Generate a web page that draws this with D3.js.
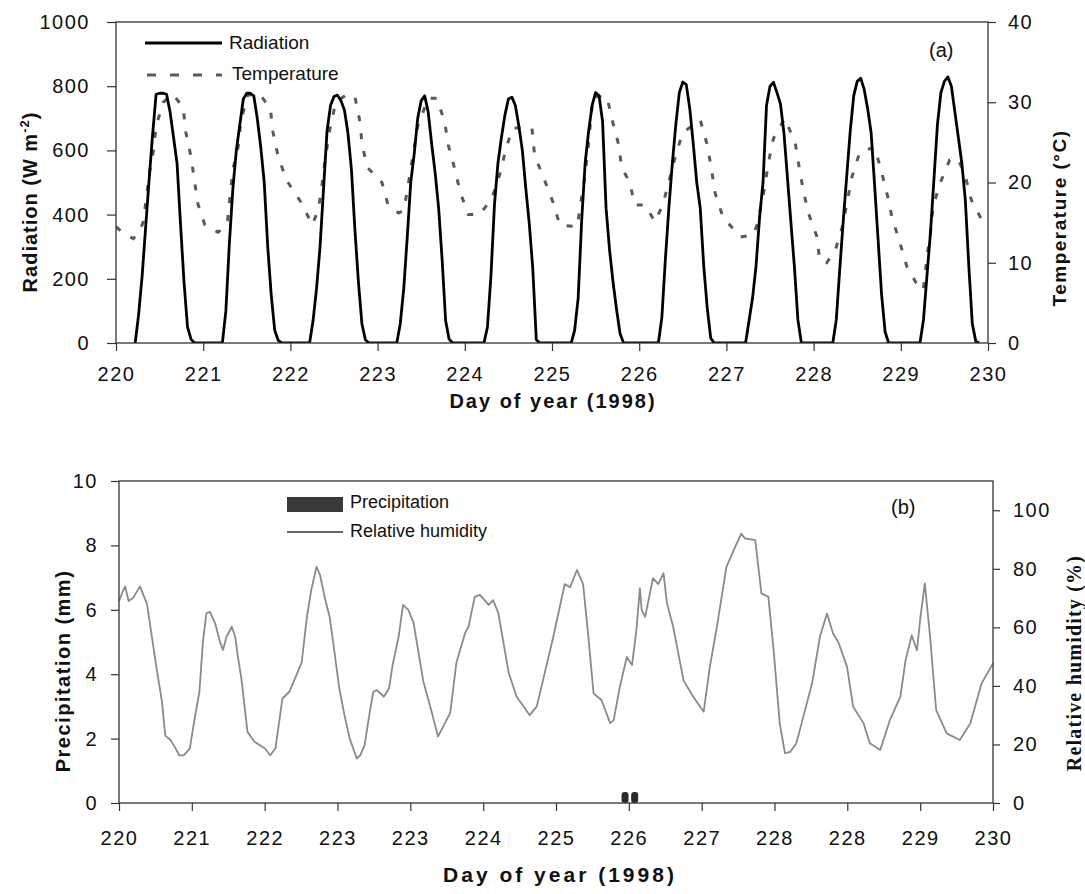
<!DOCTYPE html>
<html>
<head>
<meta charset="utf-8">
<script src="https://cdn.jsdelivr.net/npm/d3@7"></script>
<style>
  body { margin: 0; background: #fff; }
  text { font-family: "Liberation Sans", Arial, sans-serif; fill: #111; }
</style>
</head>
<body>
<script>
// ---- panel (a): radiation, sampled at fixed fractions of each day ----
var radDays = [220, 221, 222, 223, 224, 225, 226, 227, 228, 229]
var radFrac = [0.22, 0.26, 0.30, 0.34, 0.38, 0.42, 0.46, 0.50, 0.54, 0.58, 0.62, 0.66, 0.70, 0.74, 0.78, 0.82, 0.86, 0.90]
var radValues = [
  [0, 90, 210, 360, 510, 650, 775, 778, 778, 775, 720, 640, 560, 370, 190, 50, 12, 0],
  [0, 100, 310, 480, 600, 680, 760, 778, 778, 770, 700, 610, 500, 300, 150, 40, 8, 0],
  [0, 70, 170, 300, 480, 660, 740, 768, 772, 755, 725, 654, 540, 352, 190, 60, 10, 0],
  [0, 60, 170, 330, 500, 590, 700, 755, 770, 720, 620, 530, 420, 260, 70, 12, 0, 0],
  [0, 50, 210, 430, 560, 640, 710, 760, 766, 740, 675, 600, 480, 370, 230, 10, 0, 0],
  [0, 40, 140, 380, 560, 660, 740, 780, 770, 690, 420, 290, 190, 105, 30, 0, 0, 0],
  [0, 80, 260, 420, 560, 680, 780, 813, 805, 730, 620, 500, 420, 240, 110, 15, 0, 0],
  [0, 70, 140, 240, 390, 500, 740, 800, 812, 780, 745, 654, 515, 375, 237, 72, 0, 0],
  [0, 72, 230, 380, 520, 660, 770, 815, 825, 790, 730, 654, 490, 320, 150, 35, 0, 0],
  [0, 72, 210, 343, 510, 680, 780, 815, 829, 800, 720, 640, 560, 445, 240, 60, 5, 0]
]

// temperature (deg C)
var tempTime = [220.00, 220.10, 220.20, 220.27, 220.31, 220.35, 220.38, 220.43, 220.46, 220.54, 220.65, 220.77, 220.80, 220.86, 220.90, 220.94,
  221.02, 221.17, 221.25, 221.28, 221.31, 221.34, 221.40, 221.43, 221.51, 221.65, 221.77, 221.80, 221.86, 221.96,
  222.13, 222.25, 222.32, 222.36, 222.40, 222.45, 222.52, 222.65, 222.74, 222.80, 222.82, 222.88,
  223.05, 223.12, 223.24, 223.30, 223.34, 223.40, 223.46, 223.58, 223.68, 223.77, 223.81, 223.88, 223.95,
  224.04, 224.17, 224.31, 224.40, 224.48, 224.55, 224.77, 224.80, 224.90,
  225.01, 225.09, 225.29, 225.33, 225.38, 225.42, 225.47, 225.63, 225.69, 225.76, 225.80, 225.89, 225.95,
  226.07, 226.18, 226.27, 226.35, 226.42, 226.50, 226.70, 226.78, 226.83, 226.87, 226.96,
  227.16, 227.31, 227.36, 227.38, 227.44, 227.48, 227.54, 227.67, 227.79, 227.83, 227.88, 227.94,
  228.04, 228.07, 228.15, 228.25, 228.33, 228.44, 228.53, 228.70, 228.78, 228.85, 228.90, 228.99,
  229.07, 229.15, 229.22, 229.26, 229.30, 229.34, 229.37, 229.45, 229.56, 229.65, 229.73, 229.81, 229.93, 230.00]
var tempValue = [14.5, 13.5, 13.0, 14.0, 15.0, 18.2, 21.0, 24.0, 27.0, 30.0, 31.0, 29.4, 26.3, 23.2, 20.2, 17.3,
  14.7, 13.8, 14.5, 15.3, 18.5, 21.6, 24.4, 27.5, 30.9, 31.0, 29.2, 26.3, 23.2, 20.2,
  17.4, 14.7, 16.6, 19.5, 23.0, 26.5, 30.0, 31.0, 30.7, 27.4, 24.9, 21.9,
  20.0, 17.2, 16.2, 16.5, 19.0, 23.0, 27.0, 30.5, 30.5, 27.5, 24.7, 21.9, 18.7,
  16.0, 16.0, 18.0, 21.0, 24.5, 26.8, 26.8, 23.4, 20.7,
  17.6, 14.7, 14.5, 17.5, 21.0, 25.0, 30.7, 30.7, 27.8, 24.9, 21.9, 20.0, 17.2,
  17.2, 15.1, 17.2, 20.5, 23.5, 26.2, 27.8, 24.7, 21.6, 18.7, 15.7,
  13.2, 13.5, 15.0, 16.2, 19.5, 22.4, 25.5, 28.0, 24.9, 22.2, 19.1, 16.2,
  13.2, 10.3, 10.0, 11.6, 14.5, 20.7, 23.8, 24.4, 21.3, 18.2, 15.6, 12.5,
  9.5, 8.0, 6.6, 6.8, 10.7, 13.7, 17.0, 19.9, 22.8, 23.0, 21.2, 17.8, 15.3, 15.0]

// ---- panel (b): relative humidity (%) and precipitation (mm) ----
var rhTime = [220.00, 220.04, 220.07, 220.11, 220.16, 220.24, 220.32, 220.37, 220.43, 220.49, 220.53, 220.59, 220.64, 220.69, 220.74, 220.81, 220.86, 220.92, 220.96,
  221.00, 221.04, 221.10, 221.16, 221.19, 221.23, 221.29, 221.33, 221.36, 221.40, 221.47, 221.55, 221.67, 221.73, 221.79, 221.87, 221.95,
  222.03, 222.09, 222.15, 222.20, 222.26, 222.30, 222.36, 222.41, 222.45, 222.52, 222.58, 222.64, 222.68, 222.72, 222.76, 222.81, 222.87, 222.91, 222.95,
  223.03, 223.09, 223.13, 223.20, 223.25, 223.31, 223.37, 223.48, 223.58, 223.65, 223.79, 223.86, 223.96,
  224.00, 224.07, 224.13, 224.23, 224.28, 224.34, 224.46, 224.55, 224.70, 224.78, 224.85, 224.97,
  225.10, 225.16, 225.24, 225.31, 225.37, 225.43, 225.52, 225.62, 225.66, 225.73, 225.81, 225.87, 225.92, 225.96, 225.98,
  226.02, 226.11, 226.17, 226.23, 226.27, 226.34, 226.46, 226.57, 226.65, 226.69, 226.76, 226.84, 226.95,
  227.05, 227.12, 227.16, 227.28, 227.35, 227.43, 227.49, 227.56, 227.62, 227.68, 227.75, 227.83, 227.93,
  228.02, 228.10, 228.17, 228.23, 228.33, 228.40, 228.52, 228.59, 228.71, 228.82, 228.94,
  229.00, 229.07, 229.13, 229.17, 229.22, 229.28, 229.35, 229.47, 229.62, 229.74, 229.87, 230.00]
var rhValue = [69, 72, 74, 69, 70, 74, 68, 58, 46, 35, 23, 21.5, 19, 16.3, 16.3, 18.6, 27.8, 38, 55,
  64.8, 65.3, 61.4, 54.6, 52.3, 56.8, 60.2, 56.8, 50, 42.6, 24.3, 20.9, 18.6, 16.3, 18.6, 35.7, 38,
  43.7, 48, 63.6, 72.8, 80.7, 77.9, 69.4, 63.6, 55, 39.2, 30, 22, 18.6, 15.2, 16.3, 19.8, 31.2, 38, 38.6,
  36.3, 39.2, 47, 56.9, 67.7, 66, 61.6, 41.8, 30.8, 22.7, 30.8, 47.9, 58.1,
  60.3, 70.4, 71.1, 67.7, 69.3, 64.9, 44.3, 36.3, 30, 33, 41.8, 56.9,
  74.8, 73.7, 79.6, 74.8, 56.9, 37.4, 35.2, 27.3, 28.3, 39.6, 49.9, 47.1, 59.1, 73.4, 66,
  63.6, 76.8, 74.8, 78.5, 68.2, 60.3, 41.8, 36.3, 32.9, 31.2, 46.5, 60, 80.7,
  87.5, 92, 90.4, 89.8, 71.6, 70.4, 52.2, 27.2, 17, 17.5, 20.4, 29.5, 40.9,
  56.8, 64.7, 57.9, 55, 46.5, 32.9, 27.2, 20.4, 18.1, 28.3, 36.3,
  48.8, 57.3, 52.2, 63.6, 75, 56.8, 31.7, 23.8, 21.5, 27.2, 40.9, 47.7]

var precipTime = [225.79, 225.90]
var precipValue = [0.25, 0.25]

// axis ticks
var radTicks = [0, 200, 400, 600, 800, 1000]
var tempTicks = [0, 10, 20, 30, 40]
var dayTicks = [220, 221, 222, 223, 224, 225, 226, 227, 228, 229, 230]
var precTicks = [0, 2, 4, 6, 8, 10]
var rhTicks = [0, 20, 40, 60, 80, 100]
var dayTicksB = [220, 220.833, 221.667, 222.5, 223.333, 224.167, 225, 225.833, 226.667, 227.5, 228.333, 229.167, 230]
var dayLabelsB = ["220", "221", "222", "223", "223", "224", "225", "226", "227", "228", "228", "229", "230"]

var svg = d3.select("body").append("svg")
  .attr("width", 1085)
  .attr("height", 894)

svg.append("rect").attr("width", 1085).attr("height", 894).attr("fill", "#fff")

// ================= panel (a) =================
var pa = { left: 116, right: 988, top: 22, bottom: 343 }

var x = d3.scaleLinear().domain([220, 230]).range([pa.left, pa.right])
var yRad = d3.scaleLinear().domain([0, 1000]).range([pa.bottom, pa.top])
var yTemp = d3.scaleLinear().domain([0, 40]).range([pa.bottom, pa.top])

svg.append("clipPath").attr("id", "clipA")
  .append("rect").attr("x", pa.left).attr("y", pa.top)
  .attr("width", pa.right - pa.left).attr("height", pa.bottom - pa.top)

var radPoints = []
radDays.forEach(function(day, i) {
  radFrac.forEach(function(f, j) {
    radPoints.push([day + f, radValues[i][j]])
  })
})

var tempPoints = tempTime.map(function(t, i) { return [t, tempValue[i]] })

svg.append("path")
  .datum(tempPoints)
  .attr("clip-path", "url(#clipA)")
  .attr("fill", "none")
  .attr("stroke", "#5a5a5a")
  .attr("stroke-width", 3)
  .attr("stroke-dasharray", "6,12")
  .attr("d", d3.line().x(d => x(d[0])).y(d => yTemp(d[1])))

svg.append("path")
  .datum(radPoints)
  .attr("clip-path", "url(#clipA)")
  .attr("fill", "none")
  .attr("stroke", "#000")
  .attr("stroke-width", 2.8)
  .attr("stroke-linejoin", "round")
  .attr("d", d3.line().x(d => x(d[0])).y(d => yRad(d[1])))

svg.append("rect")
  .attr("x", pa.left).attr("y", pa.top)
  .attr("width", pa.right - pa.left).attr("height", pa.bottom - pa.top)
  .attr("fill", "none").attr("stroke", "#333").attr("stroke-width", 1.3)

function styleAxis(g) {
  g.select(".domain").remove()
  g.selectAll(".tick line").attr("stroke", "#333").attr("stroke-width", 1.2)
  g.selectAll(".tick text")
    .style("font-family", "'Liberation Sans', Arial, sans-serif")
    .style("font-size", "20px")
    .style("letter-spacing", "1.5px")
    .attr("fill", "#111")
}

svg.append("g")
  .attr("transform", "translate(" + pa.left + ",0)")
  .call(d3.axisLeft(yRad).tickValues(radTicks).tickFormat(d3.format("d")).tickSize(9).tickPadding(17))
  .call(styleAxis)

svg.append("g")
  .attr("transform", "translate(" + pa.right + ",0)")
  .call(d3.axisRight(yTemp).tickValues(tempTicks).tickSize(8).tickPadding(12))
  .call(styleAxis)

svg.append("g")
  .attr("transform", "translate(0," + pa.bottom + ")")
  .call(d3.axisBottom(x).tickValues(dayTicks).tickFormat(d3.format("d")).tickSize(8).tickPadding(16))
  .call(styleAxis)

// legend (a)
svg.append("line").attr("x1", 145).attr("x2", 222).attr("y1", 43).attr("y2", 43)
  .attr("stroke", "#000").attr("stroke-width", 2.8)
svg.append("text").attr("x", 229).attr("y", 49).style("font-size", "19px").text("Radiation")
svg.append("line").attr("x1", 147).attr("x2", 222).attr("y1", 75).attr("y2", 75)
  .attr("stroke", "#5a5a5a").attr("stroke-width", 3).attr("stroke-dasharray", "9,14")
svg.append("text").attr("x", 232).attr("y", 80).style("font-size", "19px").text("Temperature")
svg.append("text").attr("x", 929).attr("y", 57).style("font-size", "20px").text("(a)")

// axis titles (a)
var radTitle = svg.append("text")
  .attr("transform", "translate(37,202) rotate(-90)")
  .attr("text-anchor", "middle")
  .style("font-size", "20px").style("font-weight", "bold").style("letter-spacing", "1px")
radTitle.append("tspan").text("Radiation (W m")
radTitle.append("tspan").attr("dy", -8).style("font-size", "13px").text("-2")
radTitle.append("tspan").attr("dy", 8).text(")")

svg.append("text")
  .attr("transform", "translate(1066,218) rotate(-90)")
  .attr("text-anchor", "middle")
  .style("font-size", "19px").style("font-weight", "bold").style("letter-spacing", "1.5px")
  .text("Temperature (°C)")

svg.append("text")
  .attr("x", 553).attr("y", 408)
  .attr("text-anchor", "middle")
  .style("font-size", "20px").style("font-weight", "bold").style("letter-spacing", "2px")
  .text("Day of year (1998)")

// ================= panel (b) =================
var pb = { left: 119, right: 993, top: 481, bottom: 803 }

var x2 = d3.scaleLinear().domain([220, 230]).range([pb.left, pb.right])
var yPrec = d3.scaleLinear().domain([0, 10]).range([pb.bottom, pb.top])
var yRH = d3.scaleLinear().domain([0, 110]).range([pb.bottom, pb.top])

var rhPoints = rhTime.map(function(t, i) { return [t, rhValue[i]] })

svg.append("path")
  .datum(rhPoints)
  .attr("fill", "none")
  .attr("stroke", "#8a8a8a")
  .attr("stroke-width", 1.8)
  .attr("stroke-linejoin", "round")
  .attr("d", d3.line().x(d => x2(d[0])).y(d => yRH(d[1])))

svg.selectAll(".precip")
  .data(precipTime)
  .enter()
  .append("rect")
  .attr("class", "precip")
  .attr("x", function(d) { return x2(d) - 3.5 })
  .attr("width", 7)
  .attr("y", function(d, i) { return yPrec(precipValue[i]) - 3 })
  .attr("height", function(d, i) { return pb.bottom - yPrec(precipValue[i]) + 3 })
  .attr("rx", 3)
  .attr("fill", "#2a2a2a")

svg.append("rect")
  .attr("x", pb.left).attr("y", pb.top)
  .attr("width", pb.right - pb.left).attr("height", pb.bottom - pb.top)
  .attr("fill", "none").attr("stroke", "#333").attr("stroke-width", 1.3)

svg.append("g")
  .attr("transform", "translate(" + pb.left + ",0)")
  .call(d3.axisLeft(yPrec).tickValues(precTicks).tickSize(8).tickPadding(13))
  .call(styleAxis)

svg.append("g")
  .attr("transform", "translate(" + pb.right + ",0)")
  .call(d3.axisRight(yRH).tickValues(rhTicks).tickSize(7).tickPadding(13))
  .call(styleAxis)

svg.append("g")
  .attr("transform", "translate(0," + pb.bottom + ")")
  .call(d3.axisBottom(x2).tickValues(dayTicksB).tickFormat(function(d, i) { return dayLabelsB[i] })
    .tickSize(8).tickPadding(20))
  .call(styleAxis)

// legend (b)
svg.append("rect").attr("x", 287).attr("y", 497).attr("width", 56).attr("height", 15)
  .attr("fill", "#3a3a3a")
svg.append("text").attr("x", 350).attr("y", 508).style("font-size", "18px").text("Precipitation")
svg.append("line").attr("x1", 287).attr("x2", 343).attr("y1", 532).attr("y2", 532)
  .attr("stroke", "#666").attr("stroke-width", 1.8)
svg.append("text").attr("x", 350).attr("y", 537).style("font-size", "18px").text("Relative humidity")
svg.append("text").attr("x", 891).attr("y", 514).style("font-size", "20px").text("(b)")

// axis titles (b)
svg.append("text")
  .attr("transform", "translate(70,671) rotate(-90)")
  .attr("text-anchor", "middle")
  .style("font-size", "20px").style("font-weight", "bold").style("letter-spacing", "1.5px")
  .text("Precipitation (mm)")

svg.append("text")
  .attr("transform", "translate(1081,663) rotate(-90)")
  .attr("text-anchor", "middle")
  .style("font-family", "'Liberation Serif', 'Times New Roman', serif")
  .style("font-size", "20px").style("font-weight", "bold").style("letter-spacing", "1.2px")
  .text("Relative humidity (%)")

svg.append("text")
  .attr("x", 560).attr("y", 882)
  .attr("text-anchor", "middle")
  .style("font-size", "21px").style("font-weight", "bold").style("letter-spacing", "3px")
  .text("Day of year (1998)")
</script>
</body>
</html>
